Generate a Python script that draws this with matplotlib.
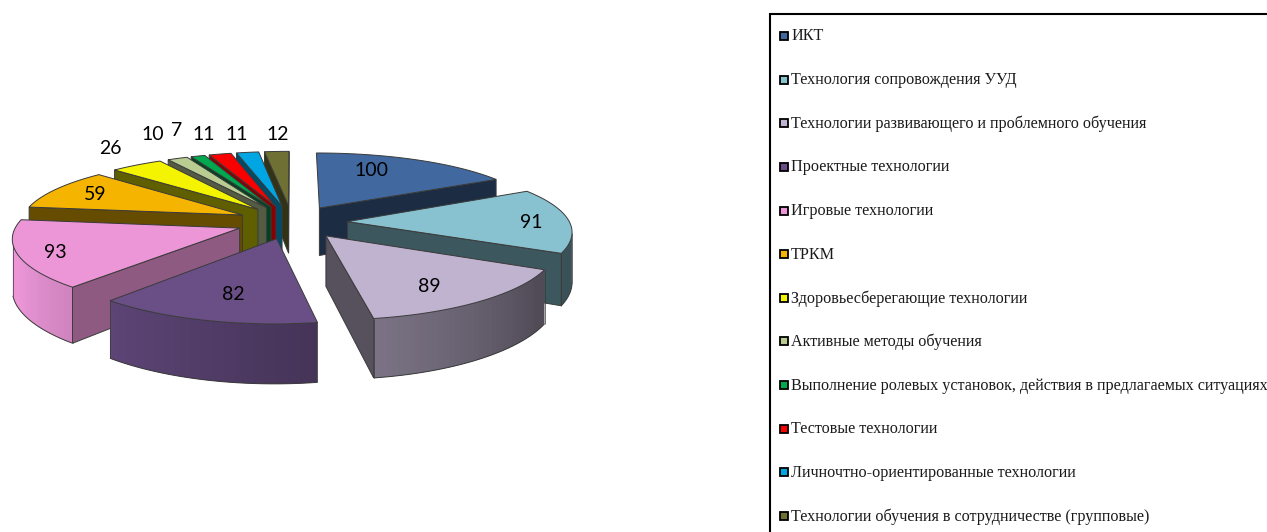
import numpy as np
import matplotlib
matplotlib.use("Agg")
import matplotlib.pyplot as plt
from matplotlib.patches import Polygon, Rectangle
from matplotlib.colors import to_rgb

categories = [
    "ИКТ",
    "Технология сопровождения УУД",
    "Технологии развивающего и проблемного обучения",
    "Проектные технологии",
    "Игровые технологии",
    "ТРКМ",
    "Здоровьесберегающие технологии",
    "Активные методы обучения",
    "Выполнение ролевых установок, действия в предлагаемых ситуациях",
    "Тестовые технологии",
    "Личночтно-ориентированные технологии",
    "Технологии обучения в сотрудничестве (групповые)",
]
values = [100, 91, 89, 82, 93, 59, 26, 10, 7, 11, 11, 12]
colors = ["#41699f", "#88c2d0", "#bfb3cf", "#6a4f87", "#ec96d8", "#f4b400",
          "#f4f400", "#b9cc92", "#00a84f", "#fa0000", "#00a6e4", "#6e7034"]
wall_shade = [0.42, 0.45, 0.45, 0.6, 0.6, 0.42, 0.39, 0.45, 0.4, 0.55, 0.45, 0.45]

# label centres in figure pixels
label_xy = [(371, 171), (531, 223), (429, 287), (233, 295), (55, 253), (95, 194),
            (110, 149), (153, 135), (177, 131), (204, 135), (237, 134), (278, 134)]

# pie projection, fitted by eye to the reference
CX, CY = 292, 222
RX, RY = 222, 67
PX, PY = 0.126, 0.148
EXPLODE = 0.25
DEPTH = 49
EDGE = "#3a3a3a"
RIM_FROM, RIM_TO = 98, 258  # rim angles turned to the viewer

# legend layout
LEG_X0, LEG_Y0 = 770, 14
LEG_Y1 = 36.5
LEG_STEP = 43.64


def project(x, y):
    sx = CX + RX * x / (1 + PX * y)
    sy = CY - RY * y / (1 + PY * y)
    return sx, sy


def depth_at(y):
    return DEPTH / (1 + PY * y)


def ground(angle, off):
    return np.sin(np.radians(angle)) + off[0], np.cos(np.radians(angle)) + off[1]


def scale_color(c, f):
    return tuple(min(1, v * f) for v in to_rgb(c))


def arc_shade(angle):
    # curved rim gets lighter going round to the left
    return float(np.clip(0.4 + (angle - 116) * 0.0046, 0.42, 1.0))


def wall_quad(ax, g0, g1, color, edge=True):
    x0, y0 = project(*g0)
    x1, y1 = project(*g1)
    pts = [(x0, y0), (x1, y1), (x1, y1 + depth_at(g1[1])), (x0, y0 + depth_at(g0[1]))]
    ax.add_patch(Polygon(pts, closed=True, facecolor=color,
                         edgecolor=EDGE if edge else "none", linewidth=0.7 if edge else 0))


def draw_slice(ax, start, end, color, shade):
    mid = (start + end) / 2
    off = (EXPLODE * np.sin(np.radians(mid)), EXPLODE * np.cos(np.radians(mid)))
    angles = np.linspace(start, end, 40)
    rim = [ground(a, off) for a in angles]
    wall_color = scale_color(color, shade)

    # curved rim, only the part turned to the viewer
    seen = [i for i in range(len(rim)) if RIM_FROM < angles[i] < RIM_TO]
    for i in seen[:-1]:
        # strips overlap the next one so no seams show
        c = scale_color(color, arc_shade(angles[i]))
        wall_quad(ax, rim[i], rim[min(i + 2, seen[-1])], c, edge=False)
    if seen:
        top_part = [project(*rim[i]) for i in seen]
        low_part = [(x, y + depth_at(rim[i][1])) for (x, y), i in zip(top_part, seen)]
        ax.add_patch(Polygon(low_part, closed=False, fill=False, edgecolor=EDGE, linewidth=0.7))
        ax.add_patch(Polygon([low_part[0], top_part[0]], closed=False, fill=False,
                             edgecolor=EDGE, linewidth=0.5))
        ax.add_patch(Polygon([low_part[-1], top_part[-1]], closed=False, fill=False,
                             edgecolor=EDGE, linewidth=0.5))

    # a cut face shows only if its outward normal points to the front
    if np.sin(np.radians(start)) < 0:
        wall_quad(ax, off, rim[0], wall_color)
    if -np.sin(np.radians(end)) < 0:
        wall_quad(ax, off, rim[-1], wall_color)

    pts = [project(*off)] + [project(*g) for g in rim]
    ax.add_patch(Polygon(pts, closed=True, facecolor=color, edgecolor=EDGE, linewidth=0.7))


fig = plt.figure(figsize=(12.67, 5.32), dpi=100)
ax = fig.add_axes([0, 0, 1, 1])
ax.set_xlim(0, 1267)
ax.set_ylim(532, 0)
ax.axis("off")

sweep = np.array(values) / sum(values) * 360
starts = np.concatenate([[0], np.cumsum(sweep)[:-1]])
ends = starts + sweep

for i in [0, 1, 2, 11, 10, 9, 8, 7, 6, 5, 4, 3]:
    draw_slice(ax, starts[i], ends[i], colors[i], wall_shade[i])

for v, (x, y) in zip(values, label_xy):
    ax.text(x, y, str(v), ha="center", va="center", fontsize=14, family="Lato", color="black")

# legend frame: only left and top sides show, the rest is cut off by the image
ax.plot([LEG_X0, LEG_X0, 1267], [532, LEG_Y0, LEG_Y0], color="black", lw=1.5,
        solid_joinstyle="miter")
for i, (name, c) in enumerate(zip(categories, colors)):
    y = LEG_Y1 + i * LEG_STEP
    ax.add_patch(Rectangle((780, y - 4.5), 8, 8, facecolor=c, edgecolor="black", linewidth=1.3))
    ax.text(791, y, name, ha="left", va="center", fontsize=11.6,
            family="Liberation Serif", color="#1a1a1a")

fig.savefig("out.png", dpi=100)
plt.close(fig)
